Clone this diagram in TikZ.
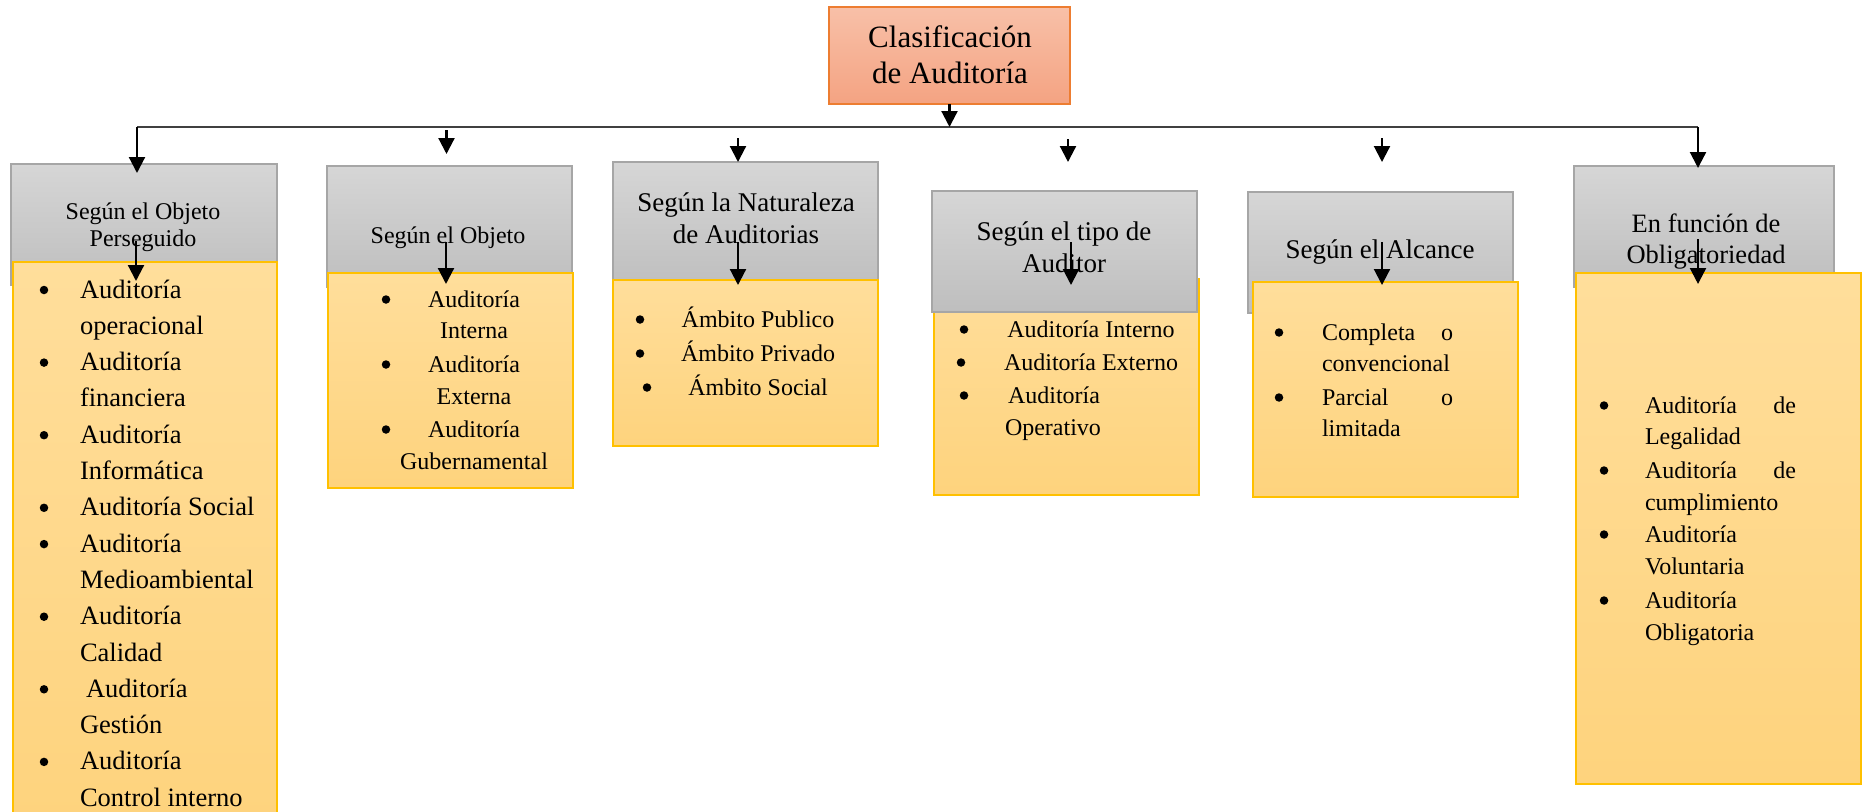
\documentclass[tikz,border=0pt]{standalone}
\usepackage{fontspec}
\setmainfont{Liberation Serif}
\usetikzlibrary{arrows.meta}
\definecolor{graytop}{RGB}{214,214,214}
\definecolor{graybot}{RGB}{190,190,190}
\definecolor{grayedge}{RGB}{166,166,166}
\definecolor{yeltop}{RGB}{255,222,155}
\definecolor{yelbot}{RGB}{254,211,125}
\definecolor{yeledge}{RGB}{255,192,0}
\definecolor{saltop}{RGB}{248,192,168}
\definecolor{salbot}{RGB}{244,163,130}
\definecolor{saledge}{RGB}{237,125,49}
\definecolor{busgray}{RGB}{64,64,64}
\tikzset{
  box/.style={rectangle, inner sep=0pt, outer sep=0pt, line width=1.2pt},
  graybox/.style={box, draw=grayedge, top color=graytop, bottom color=graybot},
  yelbox/.style={box, draw=yeledge, top color=yeltop, bottom color=yelbot},
  salbox/.style={box, draw=saledge, top color=saltop, bottom color=salbot},
  arr/.style={line width=2.2pt, -{Triangle[length=16pt,width=16pt]}},
  busline/.style={line width=1.8pt, draw=busgray},
  txt/.style={inner sep=0pt, outer sep=0pt, anchor=base},
  txl/.style={inner sep=0pt, outer sep=0pt, anchor=base west},
  dot/.style={circle, fill=black, inner sep=0pt, outer sep=0pt, minimum size=8.5pt},
  f24/.style={font=\fontsize{24}{28}\selectfont},
  f265/.style={font=\fontsize{26.5}{30}\selectfont},
  f27/.style={font=\fontsize{27}{30}\selectfont},
  f31/.style={font=\fontsize{31}{34}\selectfont},
}
\begin{document}
\begin{tikzpicture}[x=1pt,y=-1pt]
\useasboundingbox (0,0) rectangle (1862,811);

% top box
\node[salbox, minimum width=241pt, minimum height=97pt] (top) at (949.5,55.5) {};
\node[txt,f31] (topa) at (950,47) {Clasificación};
\node[txt,f31] (topb) at (950,83) {de Auditoría};

% boxes
\node[graybox, minimum width=266pt, minimum height=121pt] (g1) at (144,224.5) {};
\node[yelbox, minimum width=264pt, minimum height=568pt] (y1) at (145,546) {};
\node[graybox, minimum width=245pt, minimum height=121pt] (g2) at (449.5,226.5) {};
\node[yelbox, minimum width=245pt, minimum height=215pt] (y2) at (450.5,380.5) {};
\node[graybox, minimum width=265pt, minimum height=128pt] (g3) at (745.5,226) {};
\node[yelbox, minimum width=265pt, minimum height=166pt] (y3) at (745.5,363) {};
\node[yelbox, minimum width=265pt, minimum height=216pt] (y4) at (1066.5,387) {};
\node[graybox, minimum width=265pt, minimum height=121pt] (g4) at (1064.5,251.5) {};
\node[graybox, minimum width=265pt, minimum height=121pt] (g5) at (1380.5,252.5) {};
\node[yelbox, minimum width=265pt, minimum height=215pt] (y5) at (1385.5,389.5) {};
\node[graybox, minimum width=260pt, minimum height=121pt] (g6) at (1704,226.5) {};
\node[yelbox, minimum width=285pt, minimum height=511pt] (y6) at (1718.5,528.5) {};

% headings
\node[txt,f24] (h1a) at (143,219) {Según el Objeto};
\node[txt,f24] (h1b) at (143,246) {Perseguido};
\node[txt,f24] (h2a) at (448,243) {Según el Objeto};
\node[txt,f27] (h3a) at (746,211) {Según la Naturaleza};
\node[txt,f27] (h3b) at (746,243) {de Auditorias};
\node[txt,f27] (h4a) at (1064,240) {Según el tipo de};
\node[txt,f27] (h4b) at (1064,272) {Auditor};
\node[txt,f27] (h5a) at (1380,258) {Según el Alcance};
\node[txt,f265] (h6a) at (1706,232) {En función de};
\node[txt,f265] (h6b) at (1706,263) {Obligatoriedad};

% list 1
\foreach \i/\n in {0/a,2/b,4/c,6/d,7/e,9/f,11/g,13/h}
  \node[dot] (b1\n) at (44,290+\i*36.3) {};
\node[txl,f265] (l1a) at (80,298) {Auditoría};
\node[txl,f265] (l1b) at (80,334.3) {operacional};
\node[txl,f265] (l1c) at (80,370.6) {Auditoría};
\node[txl,f265] (l1d) at (80,406.9) {financiera};
\node[txl,f265] (l1e) at (80,443.2) {Auditoría};
\node[txl,f265] (l1f) at (80,479.5) {Informática};
\node[txl,f265] (l1g) at (80,515.8) {Auditoría Social};
\node[txl,f265] (l1h) at (80,552.1) {Auditoría};
\node[txl,f265] (l1i) at (80,588.4) {Medioambiental};
\node[txl,f265] (l1j) at (80,624.7) {Auditoría};
\node[txl,f265] (l1k) at (80,661) {Calidad};
\node[txl,f265] (l1l) at (86,697.3) {Auditoría};
\node[txl,f265] (l1m) at (80,733.6) {Gestión};
\node[txl,f265] (l1n) at (80,769.9) {Auditoría};
\node[txl,f265] (l1o) at (80,806.2) {Control interno};

% list 2
\node[dot] (b2a) at (386,299.5) {};
\node[dot] (b2b) at (386,364.5) {};
\node[dot] (b2c) at (386,429.5) {};
\node[txt,f24] (l2a) at (474,307) {Auditoría};
\node[txt,f24] (l2b) at (474,338) {Interna};
\node[txt,f24] (l2c) at (474,372) {Auditoría};
\node[txt,f24] (l2d) at (474,404) {Externa};
\node[txt,f24] (l2e) at (474,437) {Auditoría};
\node[txt,f24] (l2f) at (474,469) {Gubernamental};

% list 3
\node[dot] (b3a) at (640,319.5) {};
\node[dot] (b3b) at (640,353.5) {};
\node[dot] (b3c) at (647,387.5) {};
\node[txt,f24] (l3a) at (758,327) {Ámbito Publico};
\node[txt,f24] (l3b) at (758,361) {Ámbito Privado};
\node[txt,f24] (l3c) at (758,395) {Ámbito Social};

% list 4
\node[dot] (b4a) at (964,329.5) {};
\node[dot] (b4b) at (961,362.5) {};
\node[dot] (b4c) at (964,395.5) {};
\node[txt,f24] (l4a) at (1091,337) {Auditoría Interno};
\node[txt,f24] (l4b) at (1091,370) {Auditoría Externo};
\node[txl,f24] (l4c) at (1008,403) {Auditoría};
\node[txl,f24] (l4d) at (1005,435) {Operativo};

% list 5
\node[dot] (b5a) at (1279,332.5) {};
\node[dot] (b5b) at (1279,397.5) {};
\node[txl,f24] (l5a) at (1322,340) {\hbox to 131pt{Completa\hfill o}};
\node[txl,f24] (l5b) at (1322,371) {convencional};
\node[txl,f24] (l5c) at (1322,405) {\hbox to 131pt{Parcial\hfill o}};
\node[txl,f24] (l5d) at (1322,436) {limitada};

% list 6
\node[dot] (b6a) at (1604,405.5) {};
\node[dot] (b6b) at (1604,470.5) {};
\node[dot] (b6c) at (1604,534.5) {};
\node[dot] (b6d) at (1604,600.5) {};
\node[txl,f24] (l6a) at (1645,413) {\hbox to 151pt{Auditoría\hfill de}};
\node[txl,f24] (l6b) at (1645,444) {Legalidad};
\node[txl,f24] (l6c) at (1645,478) {\hbox to 151pt{Auditoría\hfill de}};
\node[txl,f24] (l6d) at (1645,510) {cumplimiento};
\node[txl,f24] (l6e) at (1645,542) {Auditoría};
\node[txl,f24] (l6f) at (1645,574) {Voluntaria};
\node[txl,f24] (l6g) at (1645,608) {Auditoría};
\node[txl,f24] (l6h) at (1645,640) {Obligatoria};

% bus and arrows
\coordinate (busL) at (137,127);
\coordinate (busR) at (1698,127);
\draw[busline] (busL) -- (busR);
\draw[arr] (top.south) -- (top.south |- busL);

\coordinate (a1e) at (137,173);
\coordinate (a2s) at (446.5,130);  \coordinate (a2e) at (446.5,154);
\coordinate (a3s) at (738,138);    \coordinate (a3e) at (738,162);
\coordinate (a4s) at (1068,139);   \coordinate (a4e) at (1068,162);
\coordinate (a5s) at (1382,138);   \coordinate (a5e) at (1382,162);
\coordinate (a6e) at (1698,168);
\draw[arr] (busL) -- (a1e);
\draw[arr] (a2s) -- (a2e);
\draw[arr] (a3s) -- (a3e);
\draw[arr] (a4s) -- (a4e);
\draw[arr] (a5s) -- (a5e);
\draw[arr] (busR) -- (a6e);

\coordinate (i1s) at (136,241);  \coordinate (i1e) at (136,281);
\coordinate (i2s) at (446,242);  \coordinate (i2e) at (446,284);
\coordinate (i3s) at (738,242);  \coordinate (i3e) at (738,285);
\coordinate (i4s) at (1071,242); \coordinate (i4e) at (1071,285);
\coordinate (i5s) at (1382,242); \coordinate (i5e) at (1382,285);
\coordinate (i6s) at (1698,239); \coordinate (i6e) at (1698,284);
\draw[arr] (i1s) -- (i1e);
\draw[arr] (i2s) -- (i2e);
\draw[arr] (i3s) -- (i3e);
\draw[arr] (i4s) -- (i4e);
\draw[arr] (i5s) -- (i5e);
\draw[arr] (i6s) -- (i6e);
\end{tikzpicture}
\end{document}
